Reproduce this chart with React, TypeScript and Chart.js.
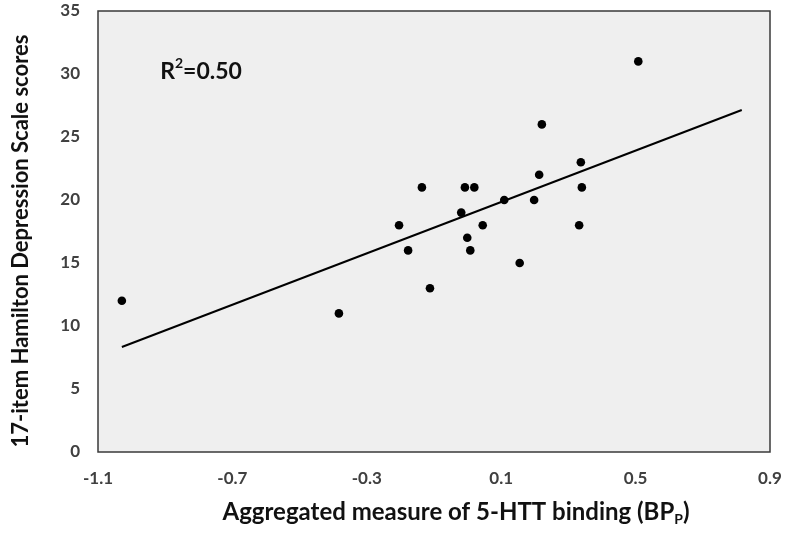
import React, { useEffect, useRef } from "react";
import { Chart, registerables } from "chart.js";

Chart.register(...registerables);

const bindingX: number[] = [
  -1.029, -0.383, -0.204, -0.177, -0.136, -0.112, -0.019, -0.008, -0.001, 0.008, 0.02,
  0.045, 0.109, 0.155, 0.198, 0.213, 0.221, 0.332, 0.337, 0.34, 0.508,
];
const hamdY: number[] = [12, 11, 18, 16, 21, 13, 19, 21, 17, 16, 21, 18, 20, 15, 20, 22, 26, 18, 23, 21, 31];
const trendX: number[] = [-1.029, 0.816];
const trendY: number[] = [8.33, 27.14];
const xTicks: number[] = [-1.1, -0.7, -0.3, 0.1, 0.5, 0.9];
const yTicks: number[] = [0, 5, 10, 15, 20, 25, 30, 35];
const r2Label = { base: "R", sup: "2", rest: "=0.50", x: -0.915, y: 30.2 };
const xTitle = { main: "Aggregated measure of 5-HTT binding (BP", sub: "P", end: ")" };
const yTitle = "17-item Hamilton Depression Scale scores";

const FONT = "Lato, 'Open Sans', sans-serif";

const framePlugin = {
  id: "frame",
  beforeDatasetsDraw(chart: any) {
    const { ctx, chartArea: a } = chart;
    ctx.save();
    ctx.fillStyle = "#efefef";
    ctx.fillRect(a.left, a.top, a.right - a.left, a.bottom - a.top);
    ctx.strokeStyle = "#3a3a3a";
    ctx.lineWidth = 1.5;
    ctx.strokeRect(a.left, a.top, a.right - a.left, a.bottom - a.top);
    ctx.restore();
  },
  afterDatasetsDraw(chart: any) {
    const { ctx, scales } = chart;
    const px = scales.x.getPixelForValue(r2Label.x);
    const py = scales.y.getPixelForValue(r2Label.y);
    ctx.save();
    ctx.fillStyle = "#111";
    ctx.textBaseline = "middle";
    ctx.textAlign = "left";
    ctx.font = `bold 23px ${FONT}`;
    ctx.fillText(r2Label.base, px, py);
    let w = ctx.measureText(r2Label.base).width;
    ctx.font = `bold 14px ${FONT}`;
    ctx.fillText(r2Label.sup, px + w, py - 8);
    w += ctx.measureText(r2Label.sup).width;
    ctx.font = `bold 23px ${FONT}`;
    ctx.fillText(r2Label.rest, px + w, py);

    // x title with subscript
    const big = `bold 24px ${FONT}`;
    const small = `bold 14px ${FONT}`;
    ctx.font = big;
    const w1 = ctx.measureText(xTitle.main).width;
    const w3 = ctx.measureText(xTitle.end).width;
    ctx.font = small;
    const w2 = ctx.measureText(xTitle.sub).width;
    const total = w1 + w2 + w3;
    const cx = 456;
    const cy = 512;
    let sx = cx - total / 2;
    ctx.font = big;
    ctx.fillText(xTitle.main, sx, cy);
    sx += w1;
    ctx.font = small;
    ctx.fillText(xTitle.sub, sx, cy + 7);
    sx += w2;
    ctx.font = big;
    ctx.fillText(xTitle.end, sx, cy);

    // y title rotated
    ctx.translate(21, 241);
    ctx.rotate(-Math.PI / 2);
    ctx.textAlign = "center";
    ctx.font = `bold 22px ${FONT}`;
    ctx.fillText(yTitle, 0, 0);
    ctx.restore();
  },
};

export default function App() {
  const ref = useRef<HTMLCanvasElement | null>(null);
  useEffect(() => {
    if (!ref.current) return;
    const chart = new Chart(ref.current, {
      type: "scatter",
      data: {
        datasets: [
          {
            type: "scatter",
            data: bindingX.map((x, i) => ({ x, y: hamdY[i] })),
            backgroundColor: "#000",
            borderColor: "#000",
            pointRadius: 4.3,
            pointBorderWidth: 0,
          },
          {
            type: "line",
            data: trendX.map((x, i) => ({ x, y: trendY[i] })),
            borderColor: "#000",
            borderWidth: 2,
            pointRadius: 0,
            fill: false,
          } as any,
        ],
      },
      options: {
        animation: false,
        responsive: false,
        layout: { padding: { left: 0, right: 30, top: 11, bottom: 0 } },
        plugins: { legend: { display: false }, tooltip: { enabled: false } },
        scales: {
          x: {
            type: "linear",
            min: -1.1,
            max: 0.9,
            afterBuildTicks: (s: any) => {
              s.ticks = xTicks.map((v) => ({ value: v }));
            },
            afterFit: (s: any) => {
              s.height = 88;
              s.paddingLeft = 0;
              s.paddingRight = 0;
            },
            grid: { display: false, drawTicks: false },
            border: { display: false },
            ticks: {
              padding: 16,
              color: "#404040",
              font: { family: FONT, size: 17, weight: "bold" },
              callback: (v: any) => String(Math.round(Number(v) * 10) / 10),
            },
          },
          y: {
            type: "linear",
            min: 0,
            max: 35,
            afterBuildTicks: (s: any) => {
              s.ticks = yTicks.map((v) => ({ value: v }));
            },
            afterFit: (s: any) => {
              s.width = 98;
              s.paddingTop = 0;
              s.paddingBottom = 0;
            },
            grid: { display: false, drawTicks: false },
            border: { display: false },
            ticks: {
              padding: 18,
              color: "#404040",
              font: { family: FONT, size: 17, weight: "bold" },
            },
          },
        },
      },
      plugins: [framePlugin],
    });
    return () => chart.destroy();
  }, []);
  return (
    <div style={{ position: "fixed", left: 0, top: 0, width: 800, height: 540, background: "#fff" }}>
      <canvas ref={ref} width={800} height={540} />
    </div>
  );
}
